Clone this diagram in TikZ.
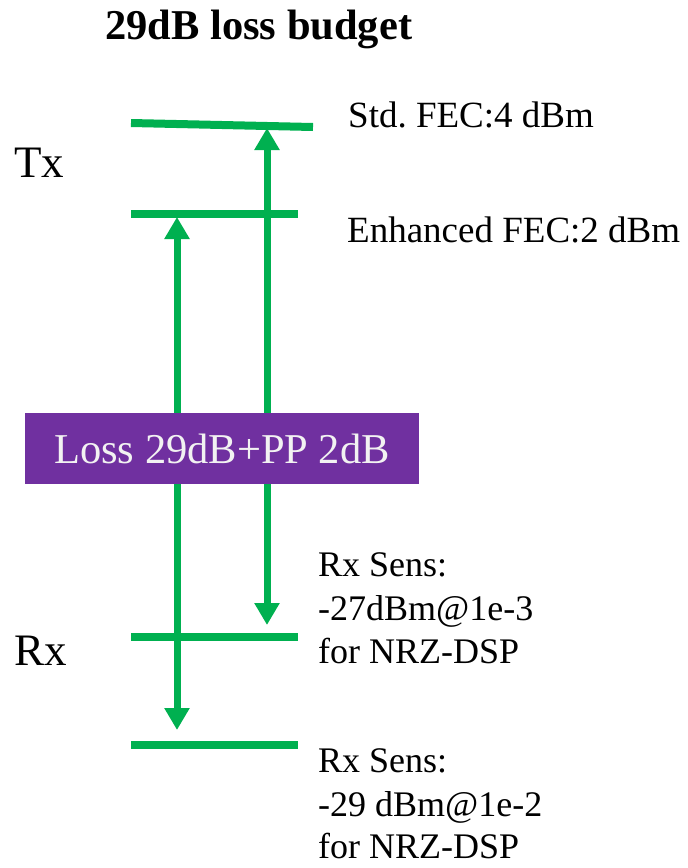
\documentclass[tikz,border=0pt]{standalone}
\usepackage{fontspec}
\setmainfont{Liberation Serif}
\usetikzlibrary{arrows.meta}
\definecolor{lgreen}{HTML}{00B050}
\definecolor{lpurple}{HTML}{7030A0}
\definecolor{lwhite}{HTML}{F2F2F2}
\frenchspacing
\begin{document}
\begin{tikzpicture}[x=1pt,y=-1pt,
  level/.style={draw=lgreen,line width=8pt},
  span/.style={draw=lgreen,line width=7pt,{Triangle[width=24pt,length=22pt]}-{Triangle[width=24pt,length=22pt]}},
  lbl/.style={anchor=base west,inner sep=0pt,font=\fontsize{36}{44}\selectfont},
  side/.style={anchor=base west,inner sep=0pt,font=\fontsize{45}{50}\selectfont}]
\useasboundingbox (0,0) rectangle (688,868);
% title
\node[anchor=base west,inner sep=0pt,font=\fontsize{42.5}{48}\selectfont\bfseries] (title) at (105,39) {29dB loss budget};
% side labels
\node[side] (tx) at (14,177) {Tx};
\node[side] (rx) at (14,665) {Rx};
% level lines
\coordinate (s1) at (131,123); \coordinate (s2) at (313,127);
\coordinate (e1) at (131,214); \coordinate (e2) at (298,214);
\coordinate (r1) at (131,637); \coordinate (r2) at (298,637);
\coordinate (q1) at (131,745); \coordinate (q2) at (298,745);
\draw[level] (s1) -- (s2);
\draw[level] (e1) -- (e2);
\draw[level] (r1) -- (r2);
\draw[level] (q1) -- (q2);
% arrows
\coordinate (a1) at (267,128); \coordinate (a2) at (267,625);
\coordinate (b1) at (177,217); \coordinate (b2) at (177,730);
\draw[span] (a1) -- (a2);
\draw[span] (b1) -- (b2);
% loss box
\node[fill=lpurple,text=lwhite,minimum width=394pt,minimum height=71pt,inner sep=0pt,font=\fontsize{42.5}{46}\selectfont] (loss) at (222,448.5) {Loss 29dB+PP 2dB};
% right labels
\node[lbl,font=\fontsize{37}{44}\selectfont] (std) at (348,127) {Std. FEC:4 dBm};
\node[lbl,font=\fontsize{37}{44}\selectfont] (enh) at (347,242) {Enhanced FEC:2 dBm};
\node[lbl] (rs1a) at (318,576) {Rx Sens:};
\node[lbl] (rs1b) at (318,620) {-27dBm@1e-3};
\node[lbl] (rs1c) at (318,663) {for NRZ-DSP};
\node[lbl] (rs2a) at (318,772) {Rx Sens:};
\node[lbl] (rs2b) at (318,816) {-29 dBm@1e-2};
\node[lbl] (rs2c) at (318,858) {for NRZ-DSP};
\end{tikzpicture}
\end{document}
